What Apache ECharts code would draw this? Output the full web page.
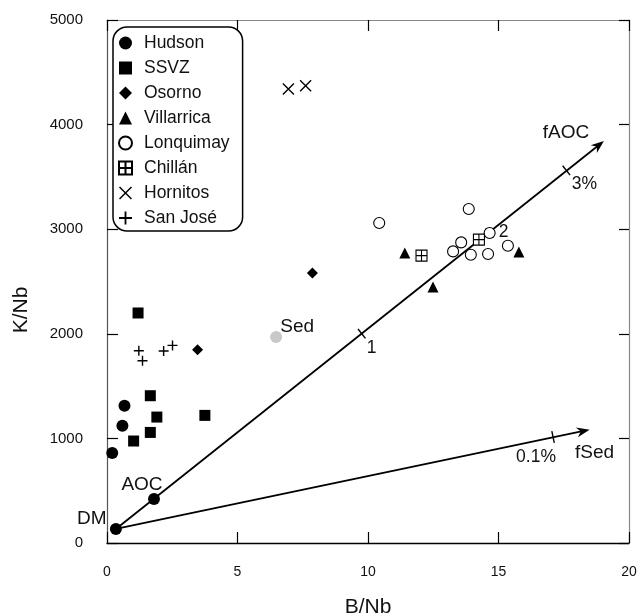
<!DOCTYPE html>
<html>
<head>
<meta charset="utf-8">
<script src="https://cdn.jsdelivr.net/npm/echarts@6/dist/echarts.min.js"></script>
<style>
html, body { margin: 0; padding: 0; background: #fff; }
#chart { width: 638px; height: 615px; }
</style>
</head>
<body>
<div id="chart"></div>
<script>
// data: [B/Nb, K/Nb]
var hudson = [[0.2, 860], [0.59, 1121], [0.67, 1312]];
var ssvz = [[1.02, 975], [1.66, 1057], [1.91, 1204], [3.75, 1220], [1.66, 1408], [1.19, 2199]];
var osorno = [[3.47, 1848], [7.87, 2581]];
var villarrica = [[11.41, 2772], [12.49, 2447], [15.78, 2782]];
var lonquimay = [[10.43, 3059], [13.86, 3193], [13.57, 2874], [13.26, 2788], [13.94, 2756], [14.6, 2763], [15.36, 2842], [14.66, 2964]];
var chillan = [[12.05, 2747], [14.25, 2900]];
var hornitos = [[6.95, 4340], [7.61, 4372]];
var sanJose = [[1.22, 1838], [1.36, 1743], [2.17, 1836], [2.51, 1889]];

// end members
var endMembers = [['DM', 0.34, 134], ['AOC', 1.8, 420]];
var sediment = [['Sed', 6.48, 1969]];

// mixing lines [from, to] and their fraction ticks
var fAOCLine = [0.34, 134, 19.04, 3843];
var fSedLine = [0.34, 134, 18.49, 1083];
var fAOCTicks = [['1', 9.76, 2001], ['2', 14.66, 2964], ['3%', 17.6, 3562]];
var fSedTicks = [['0.1%', 17.09, 1013]];

var legendNames = ['Hudson', 'SSVZ', 'Osorno', 'Villarrica', 'Lonquimay', 'Chillán', 'Hornitos', 'San José'];

var FONT = 'Liberation Sans';
var crossPath = 'path://M0,0.8L0.8,0L10,9.2L9.2,10ZM9.2,0L10,0.8L0.8,10L0,9.2Z';
var plusPath = 'path://M4.3,0H5.7V4.3H10V5.7H5.7V10H4.3V5.7H0V4.3H4.3Z';
var gridPlusPath = 'path://M0,0H10V10H0ZM5,0V10M0,5H10';

// label offsets (pixels) for annotations
var pointLabelOffset = { DM: [-24, 5], AOC: [-12, 1], Sed: [21, 5] };
var tickLabelOffset = { '1': [10, 14], '2': [14, -1], '3%': [18, 14], '0.1%': [-17, 20] };
var lineLabelOffset = { fAOC: [-38, -8], fSed: [5, 23] };

var chart = echarts.init(document.getElementById('chart'));

function scatter(name, data, symbol, size, style) {
    var s = Object.assign({ color: '#000', opacity: 1 }, style || {});
    return {
        name: name,
        type: 'scatter',
        data: data,
        symbol: symbol,
        symbolSize: size,
        clip: false,
        itemStyle: s,
        z: 5
    };
}

function labelled(list) {
    return list.map(function (d) {
        return {
            name: d[0],
            value: [d[1], d[2]],
            label: {
                show: true,
                formatter: d[0],
                position: 'top',
                distance: 0,
                offset: pointLabelOffset[d[0]],
                fontFamily: FONT,
                fontSize: 19,
                color: '#111',
                opacity: 1,
                textBorderWidth: 0
            }
        };
    });
}

function mixLine(name, line, ticks) {
    return {
        name: name,
        type: 'custom',
        data: [line],
        encode: { x: [0, 2], y: [1, 3] },
        z: 3,
        renderItem: function (params, api) {
            var a = api.coord([api.value(0), api.value(1)]);
            var b = api.coord([api.value(2), api.value(3)]);
            var dx = b[0] - a[0], dy = b[1] - a[1];
            var len = Math.sqrt(dx * dx + dy * dy);
            var ux = dx / len, uy = dy / len;
            var nx = -uy, ny = ux;
            var children = [];
            // shaft
            children.push({
                type: 'line',
                shape: { x1: a[0], y1: a[1], x2: b[0] - ux * 6, y2: b[1] - uy * 6 },
                style: { stroke: '#000', lineWidth: 1.8 }
            });
            // arrow head
            children.push({
                type: 'polygon',
                shape: {
                    points: [
                        [b[0], b[1]],
                        [b[0] - ux * 13 + nx * 5, b[1] - uy * 13 + ny * 5],
                        [b[0] - ux * 9, b[1] - uy * 9],
                        [b[0] - ux * 13 - nx * 5, b[1] - uy * 13 - ny * 5]
                    ]
                },
                style: { fill: '#000' }
            });
            var lo = lineLabelOffset[name];
            children.push({
                type: 'text',
                x: b[0] + lo[0],
                y: b[1] + lo[1],
                style: { text: name, fontFamily: FONT, fontSize: 19, fill: '#111', align: 'center', verticalAlign: 'middle' }
            });
            // fraction ticks
            ticks.forEach(function (t) {
                var p = api.coord([t[1], t[2]]);
                children.push({
                    type: 'line',
                    shape: { x1: p[0] - nx * 6, y1: p[1] - ny * 6, x2: p[0] + nx * 6, y2: p[1] + ny * 6 },
                    style: { stroke: '#000', lineWidth: 1.4 }
                });
                var to = tickLabelOffset[t[0]];
                children.push({
                    type: 'text',
                    x: p[0] + to[0],
                    y: p[1] + to[1],
                    style: { text: t[0], fontFamily: FONT, fontSize: 17.5, fill: '#111', align: 'center', verticalAlign: 'middle' }
                });
            });
            return { type: 'group', children: children };
        }
    };
}

function plain(v) { return String(v); }

chart.setOption({
    animation: false,
    backgroundColor: '#fff',
    textStyle: { fontFamily: FONT },
    grid: { left: 107, right: 9, top: 20, bottom: 72, outerBoundsMode: 'none', containLabel: false },
    legend: {
        data: legendNames,
        orient: 'vertical',
        left: 113,
        top: 27,
        itemWidth: 13,
        itemHeight: 13,
        itemGap: 5,
        padding: [6, 13, 3, 5],
        borderColor: '#000',
        borderWidth: 1.5,
        borderRadius: 14,
        backgroundColor: '#fff',
        textStyle: { fontFamily: FONT, fontSize: 17.5, color: '#111', lineHeight: 20, padding: [0, 0, 0, 7] }
    },
    xAxis: [{
        type: 'value',
        min: 0, max: 20, interval: 5,
        position: 'bottom',
        axisLine: { onZero: false, lineStyle: { color: '#000', width: 1.4 } },
        axisTick: { inside: true, length: 11, lineStyle: { color: '#000', width: 1.2 } },
        axisLabel: { fontFamily: FONT, color: '#111', fontSize: 14, margin: 22, formatter: plain },
        splitLine: { show: false },
        name: 'B/Nb',
        nameLocation: 'middle',
        nameGap: 54,
        nameTextStyle: { fontFamily: FONT, fontSize: 21, color: '#111' }
    }, {
        type: 'value',
        min: 0, max: 20, interval: 5,
        position: 'top',
        axisLine: { onZero: false, lineStyle: { color: '#888', width: 1.2 } },
        axisTick: { inside: true, length: 11, lineStyle: { color: '#000', width: 1.2 } },
        axisLabel: { show: false },
        splitLine: { show: false }
    }],
    yAxis: [{
        type: 'value',
        min: 0, max: 5000, interval: 1000,
        position: 'left',
        axisLine: { onZero: false, lineStyle: { color: '#555', width: 1.2 } },
        axisTick: { inside: true, length: 11, lineStyle: { color: '#000', width: 1.2 } },
        axisLabel: { fontFamily: FONT, color: '#111', fontSize: 15, margin: 24, formatter: plain },
        splitLine: { show: false }
    }, {
        type: 'value',
        min: 0, max: 5000, interval: 1000,
        position: 'right',
        axisLine: { onZero: false, lineStyle: { color: '#888', width: 1.2 } },
        axisTick: { inside: true, length: 10, lineStyle: { color: '#000', width: 1.2 } },
        axisLabel: { show: false },
        splitLine: { show: false }
    }],
    graphic: [{
        type: 'text',
        x: 21,
        y: 310,
        rotation: Math.PI / 2,
        style: { text: 'K/Nb', fontFamily: FONT, fontSize: 21, fill: '#111', align: 'center', verticalAlign: 'middle' }
    }],
    series: [
        mixLine('fAOC', fAOCLine, fAOCTicks),
        mixLine('fSed', fSedLine, fSedTicks),
        scatter('Hudson', hudson, 'circle', 12),
        scatter('SSVZ', ssvz, 'rect', 11),
        scatter('Osorno', osorno, 'diamond', 11),
        scatter('Villarrica', villarrica, 'triangle', 11),
        scatter('Lonquimay', lonquimay, 'circle', 11, { color: '#fff', borderColor: '#000', borderWidth: 1.1 }),
        scatter('Chillán', chillan, gridPlusPath, 11, { color: '#fff', borderColor: '#000', borderWidth: 1.1 }),
        scatter('Hornitos', hornitos, crossPath, 12),
        scatter('San José', sanJose, plusPath, 10),
        scatter('endMembers', labelled(endMembers), 'circle', 12),
        scatter('sediment', labelled(sediment), 'circle', 12, { color: '#c8c8c8' })
    ]
});
</script>
</body>
</html>
